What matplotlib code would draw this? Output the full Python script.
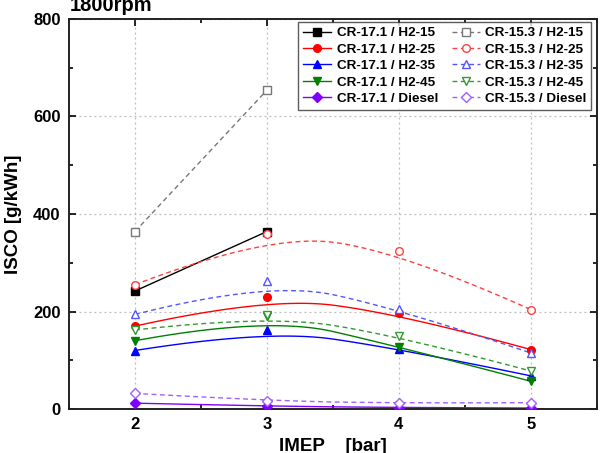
import numpy as np
import matplotlib
matplotlib.use("Agg")
import matplotlib.pyplot as plt
from matplotlib.ticker import MultipleLocator

plt.rcParams['font.family'] = ['Liberation Sans', 'DejaVu Sans']
plt.rcParams['font.weight'] = 'bold'

imep = [2, 3, 4, 5]

# ISCO [g/kWh], CR-17.1 (solid, filled markers)
cr171_h215 = [242, 364]
cr171_h225 = [170, 230, 196, 122]
cr171_h235 = [120, 163, 124, 68]
cr171_h245 = [140, 190, 128, 57]
cr171_diesel = [12, 6, 3, 2]

# ISCO [g/kWh], CR-15.3 (dashed, open markers)
cr153_h215 = [364, 654]
cr153_h225 = [255, 359, 325, 204]
cr153_h235 = [194, 263, 206, 115]
cr153_h245 = [162, 193, 150, 78]
cr153_diesel = [32, 17, 12, 13]

series = [
    ('CR-17.1 / H2-15', cr171_h215, '#000000', 's', True),
    ('CR-17.1 / H2-25', cr171_h225, '#ff0000', 'o', True),
    ('CR-17.1 / H2-35', cr171_h235, '#0000ff', '^', True),
    ('CR-17.1 / H2-45', cr171_h245, '#008000', 'v', True),
    ('CR-17.1 / Diesel', cr171_diesel, '#8000ff', 'D', True),
    ('CR-15.3 / H2-15', cr153_h215, '#777777', 's', False),
    ('CR-15.3 / H2-25', cr153_h225, '#ff4040', 'o', False),
    ('CR-15.3 / H2-35', cr153_h235, '#5555ff', '^', False),
    ('CR-15.3 / H2-45', cr153_h245, '#339933', 'v', False),
    ('CR-15.3 / Diesel', cr153_diesel, '#a060ff', 'D', False),
]


def bspline2(xs, ys, n=60):
    # quadratic B-spline with the data as control points (ends clamped)
    P = np.column_stack([xs, ys]).astype(float)
    t = np.linspace(0, 1, n)[:, None]
    if len(P) < 3:
        seg = P[0] + t * (P[-1] - P[0])
        return seg[:, 0], seg[:, 1]
    mids = [(P[i] + P[i + 1]) / 2 for i in range(1, len(P) - 2)]
    starts = [P[0]] + mids
    ends = mids + [P[-1]]
    out = []
    for k in range(len(starts)):
        a, c, b = starts[k], P[k + 1], ends[k]
        out.append((1 - t) ** 2 * a + 2 * t * (1 - t) * c + t ** 2 * b)
    pts = np.vstack(out)
    return pts[:, 0], pts[:, 1]


fig = plt.figure(figsize=(6.04, 4.53), dpi=100)
ax = fig.add_axes([0.1142, 0.0971, 0.8738, 0.861])

for label, vals, col, mk, filled in series:
    xs = imep[:len(vals)]
    cx, cy = bspline2(xs, vals)
    ls = '-' if filled else (0, (3.5, 2.5))
    face = col if filled else 'white'
    ax.plot(cx, cy, color=col, lw=1.0, linestyle=ls, zorder=2)
    ax.plot(xs, vals, linestyle='none', marker=mk, ms=5.5,
            mfc=face, mec=col, mew=1.0, zorder=3)
    # legend proxy
    ax.plot([], [], color=col, lw=1.0, linestyle=ls, marker=mk, ms=5.5,
            mfc=face, mec=col, mew=1.0, label=label)

ax.set_xlim(1.5, 5.5)
ax.set_ylim(0, 800)
ax.xaxis.set_major_locator(MultipleLocator(1))
ax.xaxis.set_minor_locator(MultipleLocator(0.5))
ax.yaxis.set_major_locator(MultipleLocator(200))
ax.yaxis.set_minor_locator(MultipleLocator(100))
ax.tick_params(which='both', direction='in', top=True, right=True, width=1.2)
ax.tick_params(which='major', length=5, labelsize=12, pad=6)
ax.tick_params(which='minor', length=3)
for lab in ax.get_xticklabels() + ax.get_yticklabels():
    lab.set_fontweight('bold')
for sp in ax.spines.values():
    sp.set_linewidth(1.4)
    sp.set_color('#222222')
ax.grid(True, which='major', linestyle=(0, (1.5, 2.5)), color='#bbbbbb', lw=0.9)
ax.set_axisbelow(True)

ax.set_xlabel('IMEP    [bar]', fontsize=13.5, fontweight='bold', labelpad=4)
ax.set_ylabel('ISCO [g/kWh]', fontsize=13.5, fontweight='bold', labelpad=8)
fig.text(0.116, 0.975, '1800rpm', fontsize=14.5, fontweight='bold',
         ha='left', va='baseline')

leg = ax.legend(ncol=2, loc='upper right', bbox_to_anchor=(0.99, 0.992),
                borderaxespad=0, fontsize=9.7, handlelength=2.1,
                handletextpad=0.4, columnspacing=1.0, labelspacing=0.3,
                borderpad=0.35, fancybox=False, frameon=True)
leg.get_frame().set_edgecolor('#333333')
leg.get_frame().set_linewidth(1.0)
for t in leg.get_texts():
    t.set_fontweight('bold')

fig.savefig('out.png', dpi=100)
